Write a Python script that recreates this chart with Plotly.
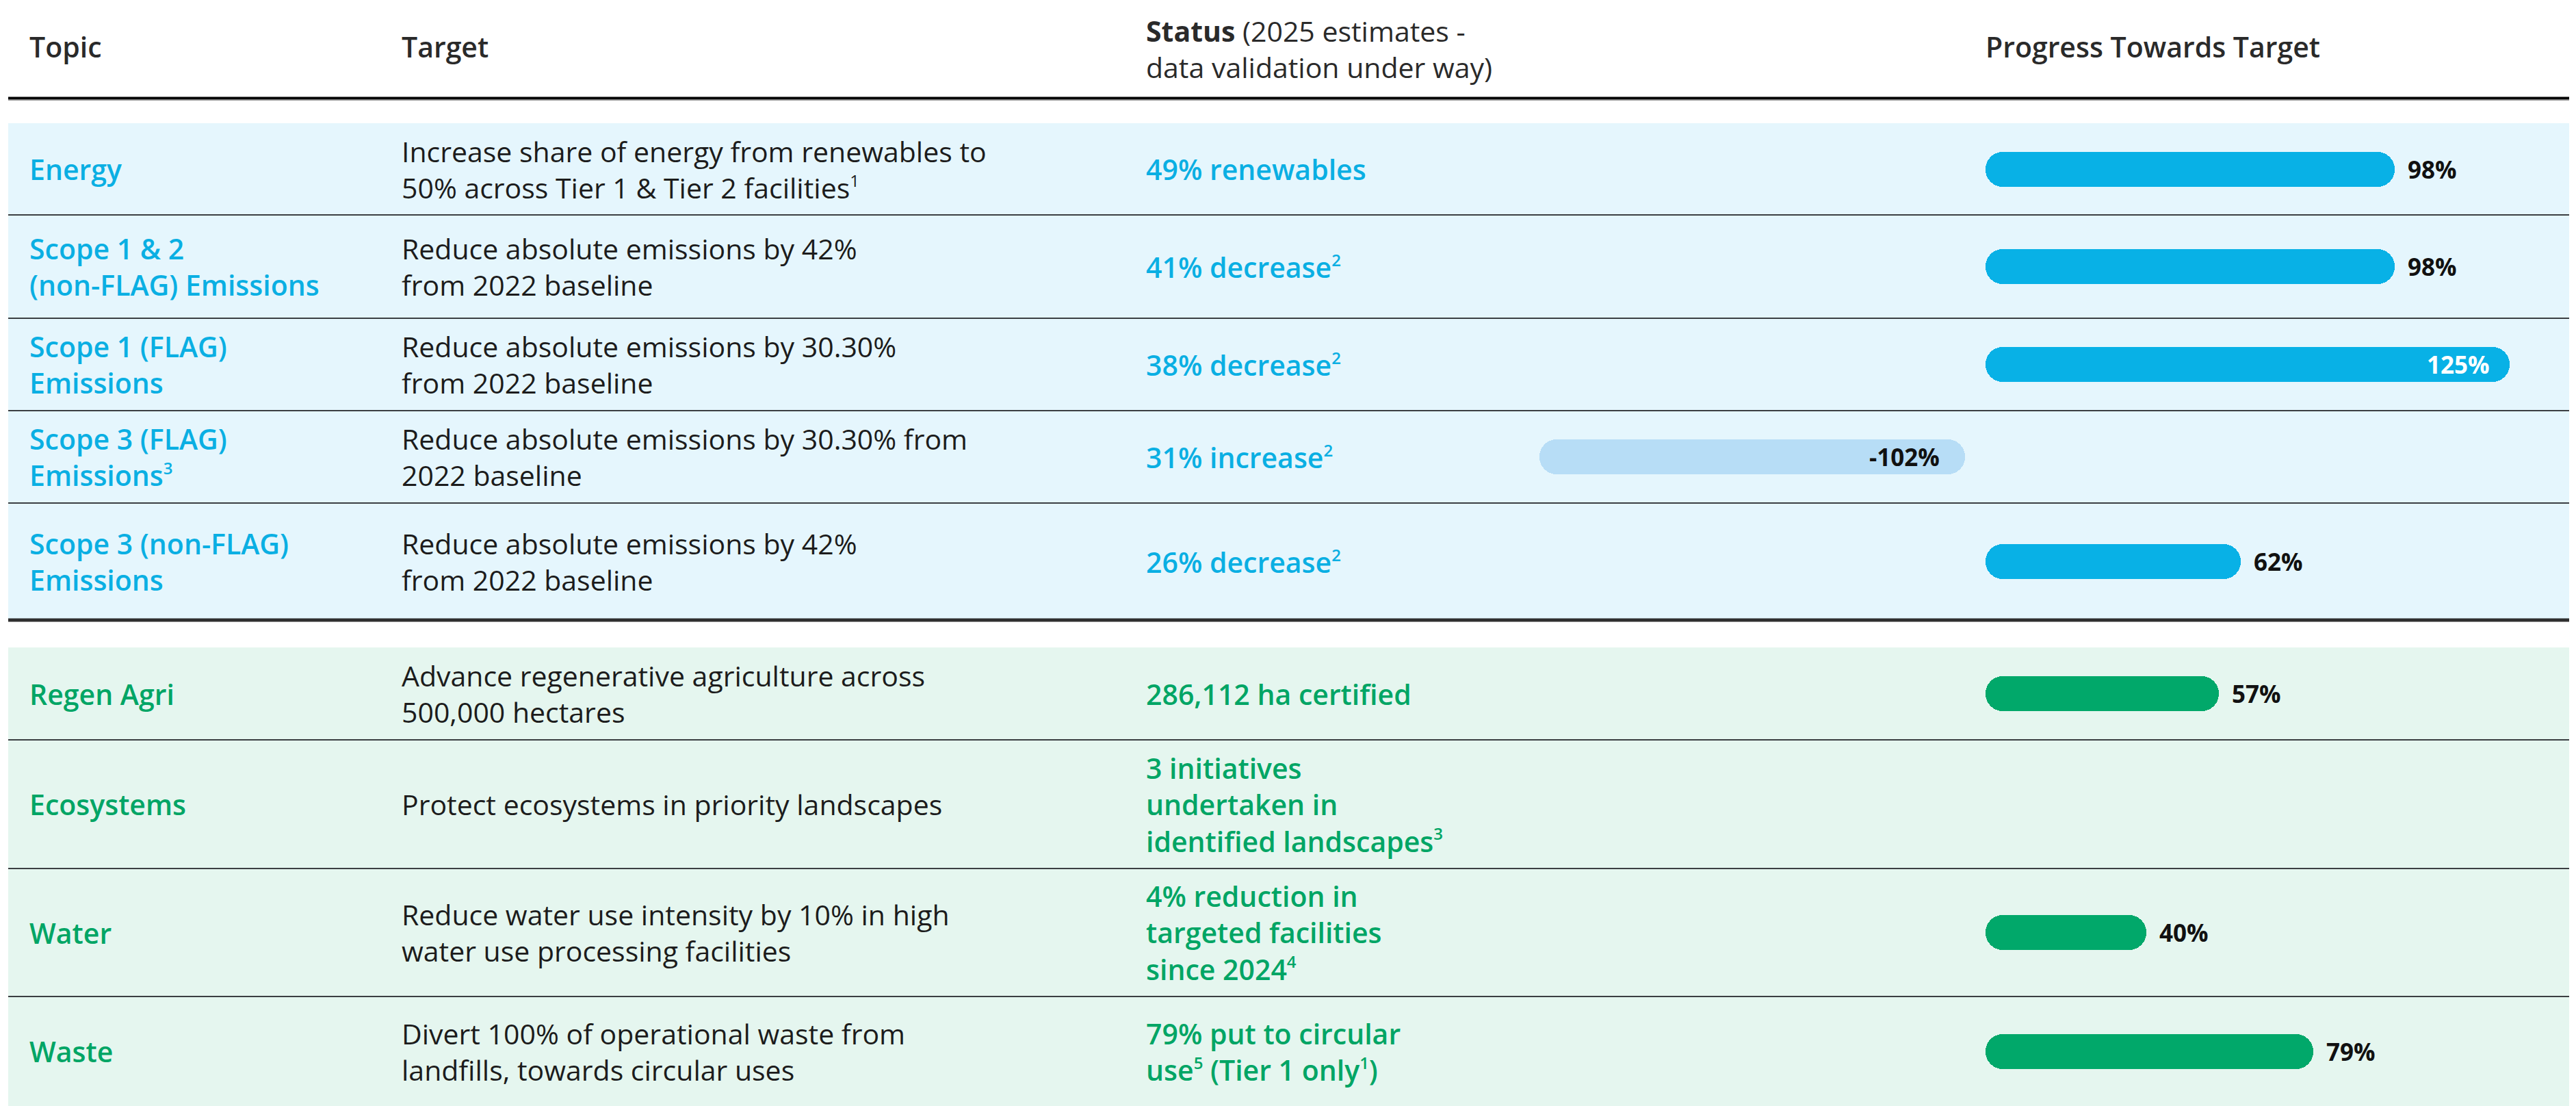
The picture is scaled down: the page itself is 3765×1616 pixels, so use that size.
import plotly.graph_objects as go

# ---------------- data ----------------
headers = ["Topic", "Target",
           "<b>Status</b> (2025 estimates -<br>data validation under way)",
           "Progress Towards Target"]


def sup(n):
    return f"<sup><span style='font-size:24px'>{n}</span></sup>"


topics = [
    "Energy",
    "Scope 1 & 2<br>(non-FLAG) Emissions",
    "Scope 1 (FLAG)<br>Emissions",
    "Scope 3 (FLAG)<br>Emissions" + sup(3),
    "Scope 3 (non-FLAG)<br>Emissions",
    "Regen Agri",
    "Ecosystems",
    "Water",
    "Waste",
]
sections = ["climate", "climate", "climate", "climate", "climate",
            "nature", "nature", "nature", "nature"]
targets = [
    "Increase share of energy from renewables to<br>50% across Tier 1 & Tier 2 facilities" + sup(1),
    "Reduce absolute emissions by 42%<br>from 2022 baseline",
    "Reduce absolute emissions by 30.30%<br>from 2022 baseline",
    "Reduce absolute emissions by 30.30% from<br>2022 baseline",
    "Reduce absolute emissions by 42%<br>from 2022 baseline",
    "Advance regenerative agriculture across<br>500,000 hectares",
    "Protect ecosystems in priority landscapes",
    "Reduce water use intensity by 10% in high<br>water use processing facilities",
    "Divert 100% of operational waste from<br>landfills, towards circular uses",
]
statuses = [
    "49% renewables",
    "41% decrease" + sup(2),
    "38% decrease" + sup(2),
    "31% increase" + sup(2),
    "26% decrease" + sup(2),
    "286,112 ha certified",
    "3 initiatives<br>undertaken in<br>identified landscapes" + sup(3),
    "4% reduction in<br>targeted facilities<br>since 2024" + sup(4),
    "79% put to circular<br>use" + sup(5) + " (Tier 1 only" + sup(1) + ")",
]
progress = [98, 98, 125, -102, 62, 57, None, 40, 79]

# ---------------- layout / style ----------------
W, H = 3765, 1616
FONT = "Open Sans"
COL_X = [41, 585, 1673, 2900]
HEADER_Y = [68, 68, 71, 68]
HEADER_LINE_Y = 143.5
SECTION_EDGES = {"climate": [180, 314, 465, 600, 735, 906],
                 "nature": [946, 1081, 1269, 1456, 1616]}
LEFT, RIGHT = 12, 3755
ZERO_PX = 2887
PX_PER_PCT = 6.25
GAP_PX = 15
BAR_THICK = 51
RADIUS = 25

BG = {"climate": "#E5F6FD", "nature": "#E5F6EF"}
TEXT_COL = {"climate": "#0AAFE3", "nature": "#00A565"}
BAR_COL = {"climate": "#08B1E6", "nature": "#01A86A"}
NEG_BAR = "#B7DDF6"
DARK = "#1C1C1C"
HEAD = "#2A2A2A"
RULE = "#3B3F42"

# row centres from section edges
centers = []
for sec in ["climate", "nature"]:
    e = SECTION_EDGES[sec]
    centers += [(e[k] + e[k + 1]) / 2 for k in range(len(e) - 1)]

fig = go.Figure()

# ---------------- bars (pill shaped: two overlapping halves, each rounded at its tip) ----------------
gap = GAP_PX / PX_PER_PCT
overlap = 2 * RADIUS / PX_PER_PCT
ya, xa, ba, ca = [], [], [], []
yb, xb, bb = [], [], []
labels = []
for i, v in enumerate(progress):
    if v is None:
        continue
    s = 1 if v > 0 else -1
    start = s * gap
    mid = (start + v) / 2
    col = BAR_COL[sections[i]] if v > 0 else NEG_BAR
    a_base = mid - s * overlap
    ya.append(centers[i]); xa.append(v - a_base); ba.append(a_base); ca.append(col)
    b_base = mid + s * overlap
    yb.append(centers[i]); xb.append(start - b_base); bb.append(b_base)
    labels.append((i, v, start))

for xs, bs, ys in [(xa, ba, ya), (xb, bb, yb)]:
    fig.add_trace(go.Bar(
        y=ys, x=xs, base=bs, orientation="h", width=BAR_THICK,
        marker=dict(color=ca, cornerradius=RADIUS, line=dict(width=0)),
        hoverinfo="skip", showlegend=False))

annotations = []
for i, v, start in labels:
    txt = f"{v}%"
    if v < 0:
        annotations.append(dict(x=start, y=centers[i], xref="x", yref="y", text=txt,
                                xanchor="right", yanchor="middle", xshift=-35, showarrow=False,
                                font=dict(family=FONT, size=35, color="#111111", weight=700)))
    elif abs(v) > 100:
        annotations.append(dict(x=v, y=centers[i], xref="x", yref="y", text=txt,
                                xanchor="right", yanchor="middle", xshift=-27, showarrow=False,
                                font=dict(family=FONT, size=35, color="#FFFFFF", weight=700)))
    else:
        annotations.append(dict(x=v, y=centers[i], xref="x", yref="y", text=txt,
                                xanchor="left", yanchor="middle", xshift=17, showarrow=False,
                                font=dict(family=FONT, size=35, color="#111111", weight=700)))

# ---------------- headers ----------------
for c, h in enumerate(headers):
    annotations.append(dict(x=COL_X[c] / W, y=HEADER_Y[c], xref="paper", yref="y", text=h,
                            xanchor="left", yanchor="middle", align="left", showarrow=False,
                            font=dict(family=FONT, size=41, color=HEAD,
                                      weight=400 if c == 2 else 600)))

# ---------------- table text ----------------
for i in range(len(topics)):
    sec = sections[i]
    for c, (txt, col, wt) in enumerate([(topics[i], TEXT_COL[sec], 600),
                                        (targets[i], DARK, 400),
                                        (statuses[i], TEXT_COL[sec], 600)]):
        annotations.append(dict(x=COL_X[c] / W, y=centers[i], xref="paper", yref="y", text=txt,
                                xanchor="left", yanchor="middle", align="left", showarrow=False,
                                font=dict(family=FONT, size=41, color=col, weight=wt)))

# ---------------- shapes: bands and rules ----------------
shapes = []
for sec in ["climate", "nature"]:
    e = SECTION_EDGES[sec]
    shapes.append(dict(type="rect", xref="paper", yref="y", x0=LEFT / W, x1=RIGHT / W,
                       y0=e[0], y1=e[-1], fillcolor=BG[sec], line=dict(width=0), layer="below"))
    for y in e[1:-1]:
        shapes.append(dict(type="line", xref="paper", yref="y", x0=LEFT / W, x1=RIGHT / W,
                           y0=y, y1=y, line=dict(color=RULE, width=2), layer="below"))
shapes.append(dict(type="line", xref="paper", yref="y", x0=LEFT / W, x1=RIGHT / W,
                   y0=HEADER_LINE_Y, y1=HEADER_LINE_Y, line=dict(color="#000000", width=4)))
shapes.append(dict(type="line", xref="paper", yref="y", x0=LEFT / W, x1=RIGHT / W,
                   y0=HEADER_LINE_Y + 3, y1=HEADER_LINE_Y + 3, line=dict(color="#9A9A9A", width=1)))
thick_y = SECTION_EDGES["climate"][-1]
shapes.append(dict(type="line", xref="paper", yref="y", x0=LEFT / W, x1=RIGHT / W,
                   y0=thick_y, y1=thick_y, line=dict(color="#2E2E2E", width=5)))

fig.update_layout(
    width=W, height=H, autosize=False,
    margin=dict(l=0, r=0, t=0, b=0, pad=0),
    paper_bgcolor="#FFFFFF", plot_bgcolor="#FFFFFF",
    barmode="overlay", bargap=0,
    xaxis=dict(visible=False, range=[(0 - ZERO_PX) / PX_PER_PCT, (W - ZERO_PX) / PX_PER_PCT],
               domain=[0, 1], fixedrange=True),
    yaxis=dict(visible=False, range=[H, 0], domain=[0, 1], fixedrange=True),
    shapes=shapes, annotations=annotations,
    font=dict(family=FONT),
    showlegend=False,
)

fig.write_html("out.html",
               config={"displayModeBar": False},
               post_script="document.body.style.margin='0';document.body.style.overflow='hidden';")
